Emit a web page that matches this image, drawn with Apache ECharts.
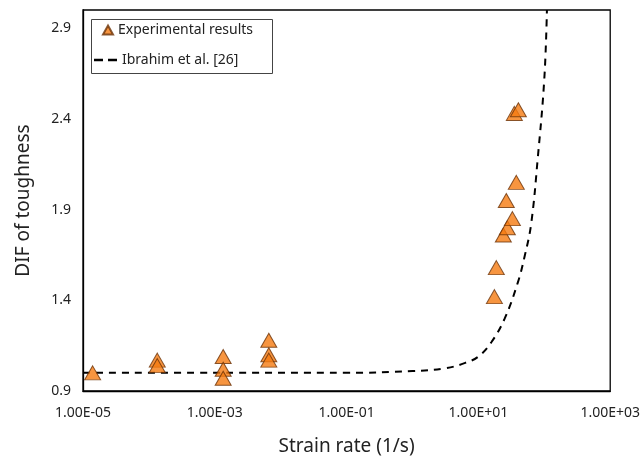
<!DOCTYPE html>
<html lang="en">
<head>
    <meta charset="UTF-8">
    <title>DIF of toughness</title>
    <script src="https://cdn.jsdelivr.net/npm/echarts@6/dist/echarts.min.js"></script>
    <style>
        html, body { margin: 0; padding: 0; background: #fff; }
        #chart { width: 643px; height: 461px; }
    </style>
</head>
<body>
<div id="chart"></div>
<script>
    // experimental points (strain rate, DIF)
    const expRate = [1.4e-5, 1.34e-4, 1.34e-4, 1.34e-3, 1.34e-3, 1.34e-3, 6.6e-3, 6.6e-3, 6.6e-3,
        17.5, 18.7, 23.9, 27.5, 32.8, 26.5, 37.6, 35.1, 40.4];
    const expDif = [1.0, 1.07, 1.04, 1.09, 1.02, 0.97, 1.18, 1.10, 1.07,
        1.42, 1.58, 1.76, 1.80, 1.85, 1.95, 2.05, 2.43, 2.45];

    // Ibrahim et al. [26] curve
    const modelRate = [1e-5, 1e-3, 1e-1, 1, 3.16, 6.31, 10, 15.8, 25.1, 39.8, 50.1, 63.1, 79.4, 100, 109.6];
    const modelDif = [1.0, 1.0, 1.0, 1.01, 1.025, 1.055, 1.09, 1.17, 1.3, 1.5, 1.64, 1.82, 2.18, 2.62, 3.0];

    const seriesNames = ['Experimental results', 'Ibrahim et al. [26]'];

    const FONT = 'Noto Sans';
    const legendText = { fontFamily: FONT, fontSize: 14, color: '#222' };

    function sciLabel(v) {
        const e = Math.round(Math.log10(v));
        if (e % 2 === 0) return '';
        return '1.00E' + (e < 0 ? '-' : '+') + String(Math.abs(e)).padStart(2, '0');
    }

    const chart = echarts.init(document.getElementById('chart'));
    chart.setOption({
        animation: false,
        backgroundColor: '#fff',
        textStyle: { fontFamily: FONT },
        grid: {
            left: 83, right: 32, top: 10, bottom: 68,
            show: true, borderColor: '#000', borderWidth: 1.3
        },
        // legend box
        graphic: [{
            type: 'rect',
            left: 91, top: 19,
            shape: { width: 181, height: 54 },
            style: { fill: '#fff', stroke: '#444', lineWidth: 1 },
            z: 90
        }],
        legend: [
            {
                left: 102, top: 23,
                padding: 0,
                data: [{ name: seriesNames[0], icon: 'triangle' }],
                itemWidth: 10, itemHeight: 9,
                textStyle: legendText,
                z: 100
            },
            {
                left: 94, top: 53,
                padding: 0,
                data: [{ name: seriesNames[1], icon: 'path://M0,0h9v2.4h-9z M14,0h9v2.4h-9z' }],
                itemWidth: 23, itemHeight: 2.4,
                textStyle: legendText,
                z: 100
            }
        ],
        xAxis: {
            type: 'log',
            logBase: 10,
            min: 1e-5, max: 1e3,
            splitNumber: 8,
            name: 'Strain rate (1/s)',
            nameLocation: 'middle',
            nameGap: 46,
            nameTextStyle: { fontFamily: FONT, fontSize: 19, color: '#222' },
            axisLine: { lineStyle: { color: '#000', width: 1.3 } },
            axisTick: { show: false },
            splitLine: { show: false },
            minorTick: { show: false },
            axisLabel: {
                fontFamily: FONT, fontSize: 14, color: '#222', margin: 15,
                showMinLabel: true, showMaxLabel: true,
                formatter: sciLabel
            }
        },
        yAxis: {
            type: 'value',
            min: 0.9, max: 3.0, interval: 0.5,
            name: 'DIF of toughness',
            nameLocation: 'middle',
            nameGap: 50,
            nameTextStyle: { fontFamily: FONT, fontSize: 19, color: '#222' },
            axisLine: { show: true, lineStyle: { color: '#000', width: 1.3 } },
            axisTick: { show: false },
            splitLine: { show: false },
            axisLabel: {
                fontFamily: FONT, fontSize: 14, color: '#222', margin: 12,
                formatter: v => (Math.abs(v - 3.0) < 1e-6 ? '' : v.toFixed(1))
            }
        },
        series: [
            {
                name: seriesNames[0],
                type: 'scatter',
                symbol: 'triangle',
                symbolSize: [16, 14],
                itemStyle: { color: '#F57A10', borderColor: '#6b3208', borderWidth: 1 },
                z: 3,
                data: expRate.map((r, i) => [r, expDif[i]])
            },
            {
                name: seriesNames[1],
                type: 'line',
                smooth: 0.4,
                symbol: 'none',
                clip: true,
                itemStyle: { color: '#000' },
                lineStyle: { color: '#000', width: 2, type: [7, 6] },
                z: 2,
                data: modelRate.map((r, i) => [r, modelDif[i]])
            }
        ]
    });
</script>
</body>
</html>
